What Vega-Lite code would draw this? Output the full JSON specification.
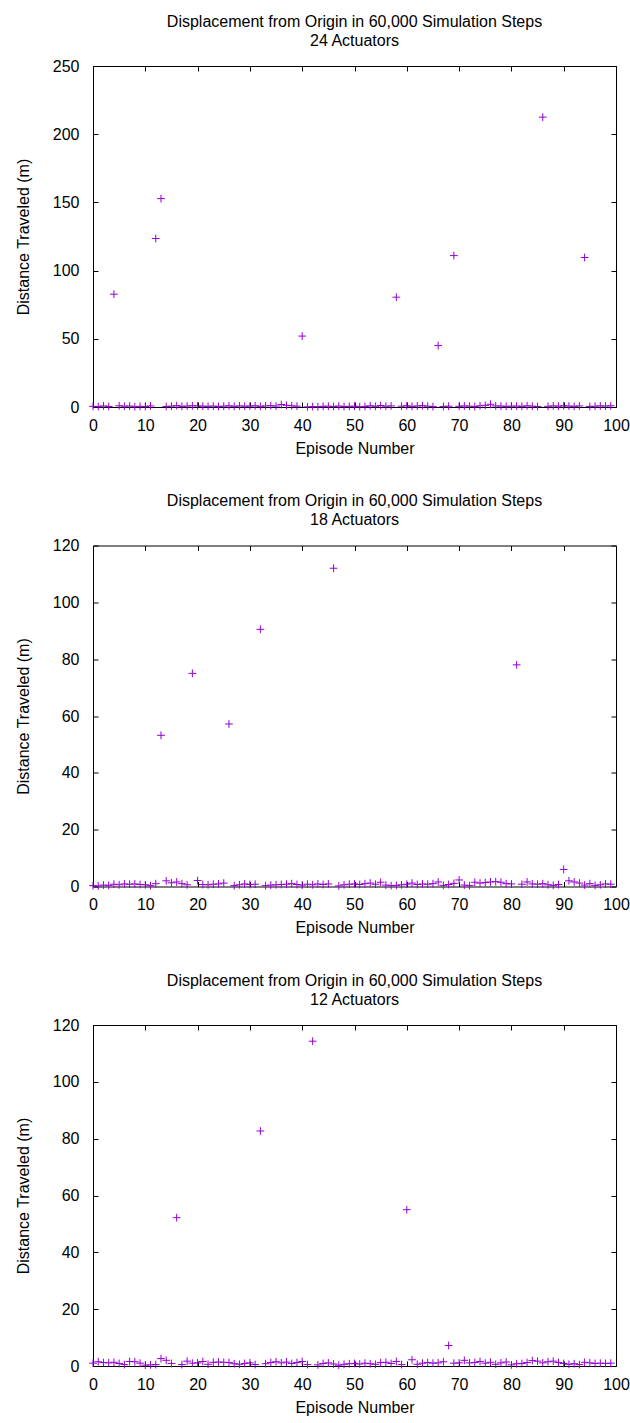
{
  "$schema": "https://vega.github.io/schema/vega-lite/v6.json",
  "padding": {"left": 14, "top": 13, "right": 0, "bottom": 0},
  "spacing": 35.5,
  "config": {
    "font": "Liberation Sans",
    "view": {"stroke": "#000", "strokeWidth": 1},
    "axis": {"grid": false, "domain": false, "tickColor": "#000", "tickSize": -5, "labelFontSize": 16, "labelColor": "#000", "titleFontSize": 16, "titleFontWeight": "normal", "titleColor": "#000", "labelFont": "Liberation Sans", "titleFont": "Liberation Sans", "labelFlush": false, "labelOverlap": false},
    "axisLeft": {"minExtent": 41, "maxExtent": 41},
    "title": {"fontSize": 16, "fontWeight": "normal", "color": "#000", "frame": "group", "anchor": "middle", "offset": 9.5, "lineHeight": 19, "font": "Liberation Sans"}
  },
  "datasets": {
    "a24": [
      {"episode":0,"distance":0.5},{"episode":1,"distance":0.3},{"episode":2,"distance":0.8},{"episode":3,"distance":0.4},{"episode":4,"distance":82.7},{"episode":5,"distance":0.9},{"episode":6,"distance":0.6},{"episode":7,"distance":0.7},{"episode":8,"distance":0.2},{"episode":9,"distance":0.5},
      {"episode":10,"distance":0.3},{"episode":11,"distance":0.8},{"episode":12,"distance":123.5},{"episode":13,"distance":152.8},{"episode":14,"distance":0.4},{"episode":15,"distance":0.6},{"episode":16,"distance":1.0},{"episode":17,"distance":0.5},{"episode":18,"distance":0.7},{"episode":19,"distance":0.9},
      {"episode":20,"distance":0.8},{"episode":21,"distance":0.6},{"episode":22,"distance":0.5},{"episode":23,"distance":0.7},{"episode":24,"distance":0.4},{"episode":25,"distance":0.6},{"episode":26,"distance":0.9},{"episode":27,"distance":0.5},{"episode":28,"distance":0.8},{"episode":29,"distance":0.6},
      {"episode":30,"distance":0.7},{"episode":31,"distance":0.9},{"episode":32,"distance":0.5},{"episode":33,"distance":0.8},{"episode":34,"distance":1.0},{"episode":35,"distance":0.7},{"episode":36,"distance":1.8},{"episode":37,"distance":1.2},{"episode":38,"distance":0.9},{"episode":39,"distance":0.6},
      {"episode":40,"distance":52.0},{"episode":41,"distance":0.1},{"episode":42,"distance":0.3},{"episode":43,"distance":0.2},{"episode":44,"distance":0.5},{"episode":45,"distance":0.6},{"episode":46,"distance":0.4},{"episode":47,"distance":0.7},{"episode":48,"distance":0.3},{"episode":49,"distance":0.5},
      {"episode":50,"distance":0.6},{"episode":51,"distance":0.2},{"episode":52,"distance":0.4},{"episode":53,"distance":0.9},{"episode":54,"distance":0.5},{"episode":55,"distance":1.1},{"episode":56,"distance":0.6},{"episode":57,"distance":0.8},{"episode":58,"distance":80.5},{"episode":59,"distance":0.6},
      {"episode":60,"distance":0.9},{"episode":61,"distance":0.5},{"episode":62,"distance":0.7},{"episode":63,"distance":1.0},{"episode":64,"distance":0.6},{"episode":65,"distance":0.3},{"episode":66,"distance":45.0},{"episode":67,"distance":0.4},{"episode":68,"distance":0.6},{"episode":69,"distance":111.0},
      {"episode":70,"distance":0.5},{"episode":71,"distance":0.8},{"episode":72,"distance":0.6},{"episode":73,"distance":0.3},{"episode":74,"distance":0.9},{"episode":75,"distance":1.2},{"episode":76,"distance":2.0},{"episode":77,"distance":0.8},{"episode":78,"distance":0.7},{"episode":79,"distance":0.5},
      {"episode":80,"distance":0.6},{"episode":81,"distance":0.7},{"episode":82,"distance":0.5},{"episode":83,"distance":0.9},{"episode":84,"distance":0.6},{"episode":85,"distance":0.4},{"episode":86,"distance":212.5},{"episode":87,"distance":0.5},{"episode":88,"distance":0.8},{"episode":89,"distance":0.6},
      {"episode":90,"distance":0.9},{"episode":91,"distance":0.7},{"episode":92,"distance":0.5},{"episode":93,"distance":0.8},{"episode":94,"distance":109.6},{"episode":95,"distance":0.4},{"episode":96,"distance":0.6},{"episode":97,"distance":0.8},{"episode":98,"distance":0.7},{"episode":99,"distance":0.9}
    ],
    "a18": [
      {"episode":0,"distance":0.3},{"episode":1,"distance":0.2},{"episode":2,"distance":0.5},{"episode":3,"distance":0.4},{"episode":4,"distance":0.8},{"episode":5,"distance":0.6},{"episode":6,"distance":0.9},{"episode":7,"distance":0.8},{"episode":8,"distance":0.9},{"episode":9,"distance":0.7},
      {"episode":10,"distance":0.6},{"episode":11,"distance":0.3},{"episode":12,"distance":1.0},{"episode":13,"distance":53.2},{"episode":14,"distance":2.0},{"episode":15,"distance":1.3},{"episode":16,"distance":1.6},{"episode":17,"distance":1.0},{"episode":18,"distance":0.6},{"episode":19,"distance":75.0},
      {"episode":20,"distance":2.1},{"episode":21,"distance":0.7},{"episode":22,"distance":0.6},{"episode":23,"distance":0.8},{"episode":24,"distance":0.9},{"episode":25,"distance":1.2},{"episode":26,"distance":57.2},{"episode":27,"distance":0.3},{"episode":28,"distance":0.6},{"episode":29,"distance":0.9},
      {"episode":30,"distance":0.7},{"episode":31,"distance":0.8},{"episode":32,"distance":90.5},{"episode":33,"distance":0.3},{"episode":34,"distance":0.5},{"episode":35,"distance":0.6},{"episode":36,"distance":0.7},{"episode":37,"distance":0.8},{"episode":38,"distance":1.0},{"episode":39,"distance":0.7},
      {"episode":40,"distance":0.5},{"episode":41,"distance":0.8},{"episode":42,"distance":0.6},{"episode":43,"distance":0.9},{"episode":44,"distance":0.7},{"episode":45,"distance":0.9},{"episode":46,"distance":112.0},{"episode":47,"distance":0.2},{"episode":48,"distance":0.6},{"episode":49,"distance":0.8},
      {"episode":50,"distance":0.9},{"episode":51,"distance":0.7},{"episode":52,"distance":1.0},{"episode":53,"distance":1.2},{"episode":54,"distance":0.8},{"episode":55,"distance":1.5},{"episode":56,"distance":0.5},{"episode":57,"distance":0.3},{"episode":58,"distance":0.4},{"episode":59,"distance":0.6},
      {"episode":60,"distance":0.8},{"episode":61,"distance":1.2},{"episode":62,"distance":0.7},{"episode":63,"distance":0.9},{"episode":64,"distance":0.8},{"episode":65,"distance":1.0},{"episode":66,"distance":1.6},{"episode":67,"distance":0.4},{"episode":68,"distance":0.7},{"episode":69,"distance":1.1},
      {"episode":70,"distance":2.3},{"episode":71,"distance":0.5},{"episode":72,"distance":0.3},{"episode":73,"distance":1.5},{"episode":74,"distance":1.2},{"episode":75,"distance":1.4},{"episode":76,"distance":1.6},{"episode":77,"distance":1.7},{"episode":78,"distance":1.5},{"episode":79,"distance":1.0},
      {"episode":80,"distance":0.9},{"episode":81,"distance":78.0},{"episode":82,"distance":0.8},{"episode":83,"distance":1.6},{"episode":84,"distance":0.9},{"episode":85,"distance":0.8},{"episode":86,"distance":1.0},{"episode":87,"distance":0.6},{"episode":88,"distance":0.4},{"episode":89,"distance":0.7},
      {"episode":90,"distance":6.0},{"episode":91,"distance":2.0},{"episode":92,"distance":1.6},{"episode":93,"distance":1.2},{"episode":94,"distance":0.5},{"episode":95,"distance":1.0},{"episode":96,"distance":0.4},{"episode":97,"distance":0.6},{"episode":98,"distance":0.9},{"episode":99,"distance":0.8}
    ],
    "a12": [
      {"episode":0,"distance":1.0},{"episode":1,"distance":1.5},{"episode":2,"distance":1.2},{"episode":3,"distance":1.1},{"episode":4,"distance":1.3},{"episode":5,"distance":0.9},{"episode":6,"distance":0.5},{"episode":7,"distance":1.6},{"episode":8,"distance":1.5},{"episode":9,"distance":1.0},
      {"episode":10,"distance":0.3},{"episode":11,"distance":0.4},{"episode":12,"distance":0.5},{"episode":13,"distance":2.6},{"episode":14,"distance":2.0},{"episode":15,"distance":0.9},{"episode":16,"distance":52.2},{"episode":17,"distance":0.5},{"episode":18,"distance":1.7},{"episode":19,"distance":1.0},
      {"episode":20,"distance":1.1},{"episode":21,"distance":1.6},{"episode":22,"distance":0.6},{"episode":23,"distance":1.3},{"episode":24,"distance":1.4},{"episode":25,"distance":1.3},{"episode":26,"distance":1.2},{"episode":27,"distance":0.8},{"episode":28,"distance":0.6},{"episode":29,"distance":0.9},
      {"episode":30,"distance":1.1},{"episode":31,"distance":0.5},{"episode":32,"distance":82.7},{"episode":33,"distance":0.8},{"episode":34,"distance":1.2},{"episode":35,"distance":1.5},{"episode":36,"distance":1.1},{"episode":37,"distance":1.4},{"episode":38,"distance":0.9},{"episode":39,"distance":1.2},
      {"episode":40,"distance":1.6},{"episode":41,"distance":0.5},{"episode":42,"distance":114.3},{"episode":43,"distance":0.4},{"episode":44,"distance":0.9},{"episode":45,"distance":1.1},{"episode":46,"distance":0.7},{"episode":47,"distance":0.3},{"episode":48,"distance":0.6},{"episode":49,"distance":0.8},
      {"episode":50,"distance":0.9},{"episode":51,"distance":0.7},{"episode":52,"distance":1.0},{"episode":53,"distance":0.8},{"episode":54,"distance":0.6},{"episode":55,"distance":1.2},{"episode":56,"distance":1.3},{"episode":57,"distance":0.9},{"episode":58,"distance":1.6},{"episode":59,"distance":0.5},
      {"episode":60,"distance":55.0},{"episode":61,"distance":2.2},{"episode":62,"distance":0.6},{"episode":63,"distance":1.0},{"episode":64,"distance":1.2},{"episode":65,"distance":1.0},{"episode":66,"distance":1.1},{"episode":67,"distance":1.5},{"episode":68,"distance":7.2},{"episode":69,"distance":1.0},
      {"episode":70,"distance":1.1},{"episode":71,"distance":2.0},{"episode":72,"distance":1.1},{"episode":73,"distance":1.2},{"episode":74,"distance":1.6},{"episode":75,"distance":1.0},{"episode":76,"distance":1.3},{"episode":77,"distance":0.6},{"episode":78,"distance":1.1},{"episode":79,"distance":1.4},
      {"episode":80,"distance":0.4},{"episode":81,"distance":0.8},{"episode":82,"distance":0.9},{"episode":83,"distance":1.2},{"episode":84,"distance":1.9},{"episode":85,"distance":1.7},{"episode":86,"distance":1.1},{"episode":87,"distance":1.5},{"episode":88,"distance":1.7},{"episode":89,"distance":1.2},
      {"episode":90,"distance":0.9},{"episode":91,"distance":0.6},{"episode":92,"distance":0.8},{"episode":93,"distance":0.5},{"episode":94,"distance":1.3},{"episode":95,"distance":1.1},{"episode":96,"distance":0.9},{"episode":97,"distance":1.0},{"episode":98,"distance":0.9},{"episode":99,"distance":1.0}
    ]
  },
  "vconcat": [
    {
      "width": 523, "height": 341,
      "title": {"text": ["Displacement from Origin in 60,000 Simulation Steps", "24 Actuators"]},
      "data": {"name": "a24"},
      "layer": [
        {
          "mark": {"type": "point", "shape": "M-1,0L1,0M0,-1L0,1", "filled": false, "strokeWidth": 1, "size": 60, "color": "#9400D3", "opacity": 1},
          "encoding": {
            "x": {"field": "episode", "type": "quantitative", "scale": {"domain": [0, 100], "nice": false}, "axis": {"orient": "bottom", "values": [0,10,20,30,40,50,60,70,80,90,100], "labelPadding": 15, "title": "Episode Number", "titlePadding": 7}},
            "y": {"field": "distance", "type": "quantitative", "scale": {"domain": [0, 250], "nice": false}, "axis": {"orient": "left", "values": [0,50,100,150,200,250], "labelPadding": 19, "title": "Distance Traveled (m)", "titlePadding": 21}}
          }
        },
        {
          "mark": {"type": "point", "opacity": 0},
          "encoding": {
            "x": {"field": "episode", "type": "quantitative", "axis": {"orient": "top", "values": [0,10,20,30,40,50,60,70,80,90,100], "labels": false, "title": null}},
            "y": {"field": "distance", "type": "quantitative", "axis": {"orient": "right", "values": [0,50,100,150,200,250], "labels": false, "title": null}}
          }
        }
      ]
    },
    {
      "width": 523, "height": 341,
      "title": {"text": ["Displacement from Origin in 60,000 Simulation Steps", "18 Actuators"]},
      "data": {"name": "a18"},
      "layer": [
        {
          "mark": {"type": "point", "shape": "M-1,0L1,0M0,-1L0,1", "filled": false, "strokeWidth": 1, "size": 60, "color": "#9400D3", "opacity": 1},
          "encoding": {
            "x": {"field": "episode", "type": "quantitative", "scale": {"domain": [0, 100], "nice": false}, "axis": {"orient": "bottom", "values": [0,10,20,30,40,50,60,70,80,90,100], "labelPadding": 15, "title": "Episode Number", "titlePadding": 7}},
            "y": {"field": "distance", "type": "quantitative", "scale": {"domain": [0, 120], "nice": false}, "axis": {"orient": "left", "values": [0,20,40,60,80,100,120], "labelPadding": 19, "title": "Distance Traveled (m)", "titlePadding": 21}}
          }
        },
        {
          "mark": {"type": "point", "opacity": 0},
          "encoding": {
            "x": {"field": "episode", "type": "quantitative", "axis": {"orient": "top", "values": [0,10,20,30,40,50,60,70,80,90,100], "labels": false, "title": null}},
            "y": {"field": "distance", "type": "quantitative", "axis": {"orient": "right", "values": [0,20,40,60,80,100,120], "labels": false, "title": null}}
          }
        }
      ]
    },
    {
      "width": 523, "height": 341,
      "title": {"text": ["Displacement from Origin in 60,000 Simulation Steps", "12 Actuators"]},
      "data": {"name": "a12"},
      "layer": [
        {
          "mark": {"type": "point", "shape": "M-1,0L1,0M0,-1L0,1", "filled": false, "strokeWidth": 1, "size": 60, "color": "#9400D3", "opacity": 1},
          "encoding": {
            "x": {"field": "episode", "type": "quantitative", "scale": {"domain": [0, 100], "nice": false}, "axis": {"orient": "bottom", "values": [0,10,20,30,40,50,60,70,80,90,100], "labelPadding": 15, "title": "Episode Number", "titlePadding": 7}},
            "y": {"field": "distance", "type": "quantitative", "scale": {"domain": [0, 120], "nice": false}, "axis": {"orient": "left", "values": [0,20,40,60,80,100,120], "labelPadding": 19, "title": "Distance Traveled (m)", "titlePadding": 21}}
          }
        },
        {
          "mark": {"type": "point", "opacity": 0},
          "encoding": {
            "x": {"field": "episode", "type": "quantitative", "axis": {"orient": "top", "values": [0,10,20,30,40,50,60,70,80,90,100], "labels": false, "title": null}},
            "y": {"field": "distance", "type": "quantitative", "axis": {"orient": "right", "values": [0,20,40,60,80,100,120], "labels": false, "title": null}}
          }
        }
      ]
    }
  ]
}
